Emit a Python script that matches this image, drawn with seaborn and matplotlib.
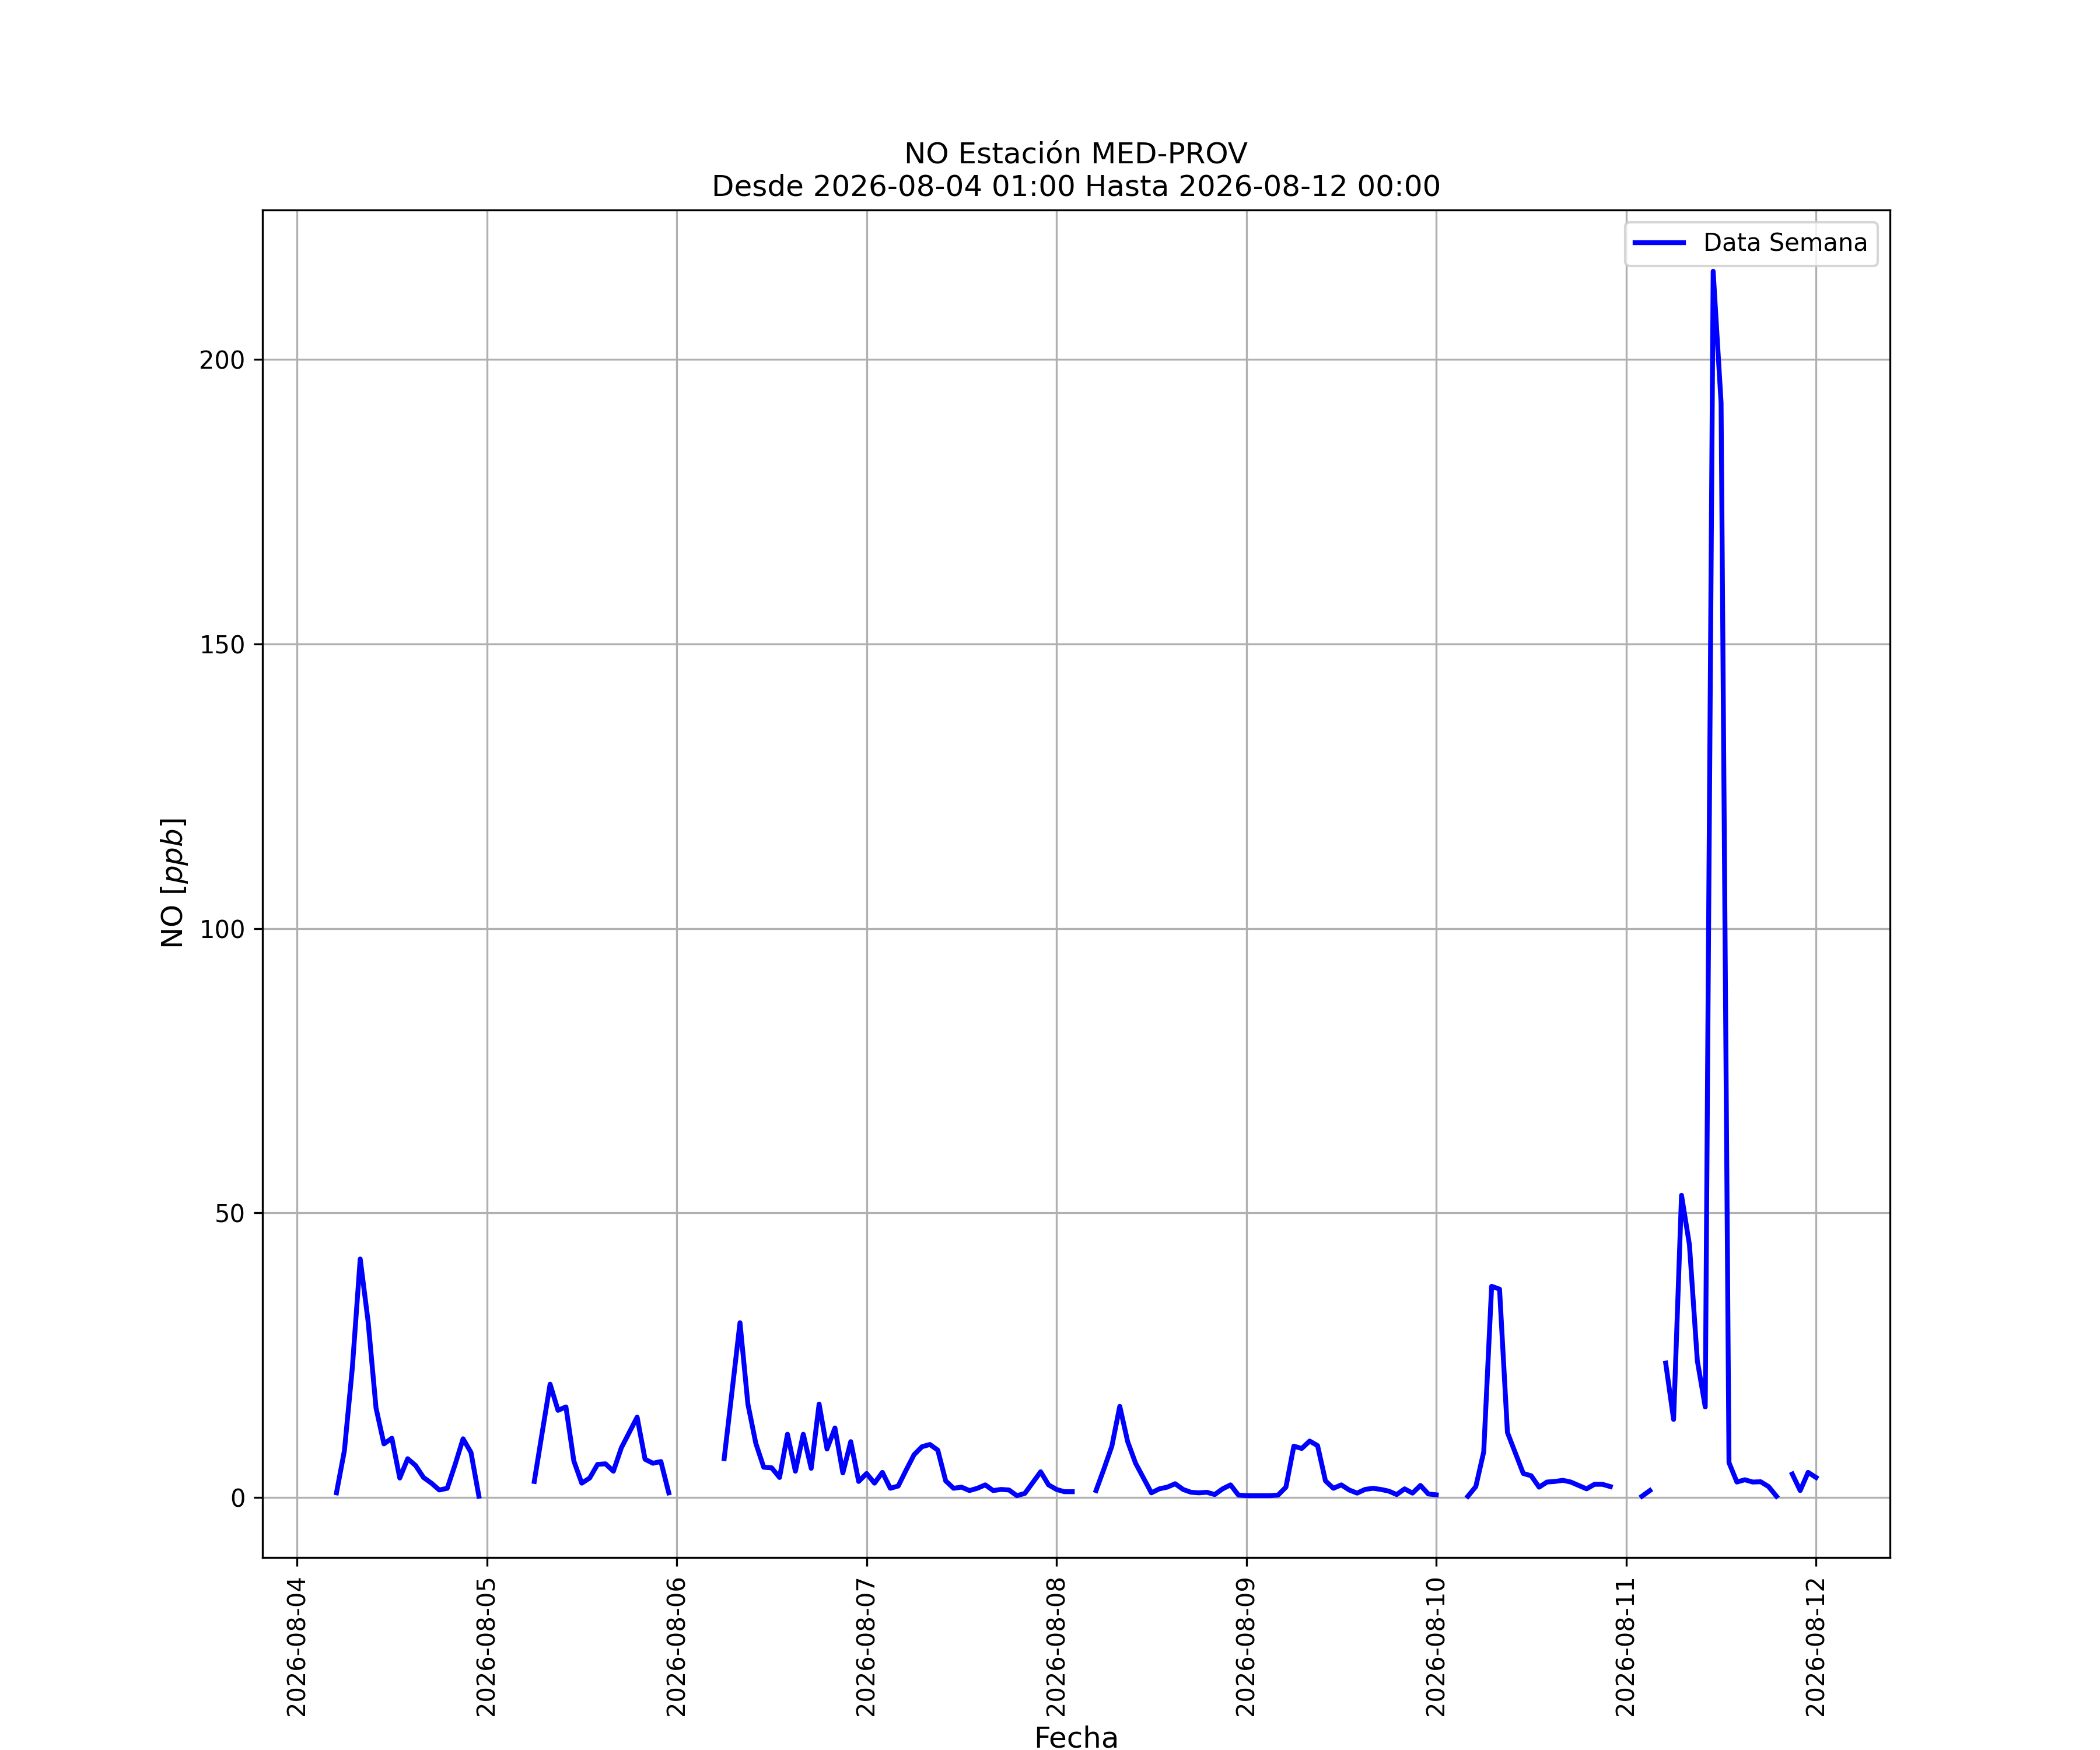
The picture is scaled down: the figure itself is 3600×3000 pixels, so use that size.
import numpy as np
import pandas as pd
import matplotlib
matplotlib.use("Agg")
import matplotlib.pyplot as plt
import matplotlib.dates as mdates
import seaborn as sns

nan = np.nan

# Hourly NO values [ppb], starting 2026-08-04 01:00 (NaN = missing)
start_time = "2026-08-04 01:00"
no_0804 = [nan, nan, nan, nan, 0.8, 8.2, 22.7, 41.9, 30.9, 15.7, 9.4, 10.4,
           3.4, 6.8, 5.6, 3.5, 2.5, 1.3, 1.6, 5.8, 10.3, 7.9, 0.2]          # 01..23
no_0805 = [nan, nan, nan, nan, nan, nan, 2.8, 11.4, 19.9, 15.3, 15.9, 6.4,
           2.5, 3.4, 5.8, 5.9, 4.6, 8.7, 11.4, 14.1, 6.7, 6.0, 6.3, 0.8]
no_0806 = [nan, nan, nan, nan, nan, nan, 6.8, 18.7, 30.7, 16.4, 9.5, 5.3,
           5.2, 3.5, 11.1, 4.6, 11.1, 5.1, 16.4, 8.5, 12.2, 4.3, 9.8, 2.8]
no_0807 = [4.2, 2.5, 4.4, 1.6, 2.0, 4.8, 7.5, 8.9, 9.3, 8.3, 2.9, 1.6,
           1.8, 1.2, 1.6, 2.2, 1.2, 1.4, 1.3, 0.3, 0.7, 2.6, 4.5, 2.2]
no_0808 = [1.4, 1.0, 1.0, nan, nan, 1.2, 5.0, 9.0, 16.0, 9.8, 6.0, 3.4,
           0.8, 1.5, 1.8, 2.4, 1.4, 0.9, 0.8, 0.9, 0.5, 1.5, 2.2, 0.4]
no_0809 = [0.3, 0.3, 0.3, 0.3, 0.4, 1.8, 9.0, 8.6, 9.9, 9.1, 2.9, 1.6,
           2.2, 1.3, 0.75, 1.4, 1.6, 1.4, 1.1, 0.5, 1.5, 0.75, 2.1, 0.6]
no_0810 = [0.45, nan, nan, nan, 0.2, 1.9, 8.0, 37.1, 36.6, 11.4, 7.8, 4.2,
           3.8, 1.8, 2.7, 2.8, 3.0, 2.7, 2.1, 1.5, 2.3, 2.3, 1.9, nan]
no_0811 = [nan, nan, 0.2, 1.2, nan, 23.6, 13.7, 53.1, 44.4, 24.0, 15.9, 215.5,
           192.4, 6.1, 2.7, 3.1, 2.7, 2.75, 1.9, 0.2, nan, 4.1, 1.2, 4.4]
no_0812 = [3.5]

values = no_0804 + no_0805 + no_0806 + no_0807 + no_0808 + no_0809 + no_0810 + no_0811 + no_0812
times = pd.date_range(start_time, periods=len(values), freq="h")

df = pd.DataFrame({"Fecha": times, "NO": values})
df["seg"] = df["NO"].isna().cumsum()
df = df.dropna(subset=["NO"])

fig = plt.figure(figsize=(12, 10), dpi=300)
ax = fig.add_subplot(111)

sns.lineplot(data=df, x="Fecha", y="NO", units="seg", estimator=None,
             color="blue", linewidth=2, label="Data Semana", ax=ax)

ax.xaxis.set_major_locator(mdates.DayLocator())
ax.xaxis.set_major_formatter(mdates.DateFormatter("%Y-%m-%d"))
plt.setp(ax.get_xticklabels(), rotation=90)

ax.grid(True, color="#b0b0b0", linewidth=0.8)
ax.set_xlabel("Fecha", fontsize=12)
ax.set_ylabel("NO [$ppb$]", fontsize=12)
ax.set_title("NO Estación MED-PROV\nDesde 2026-08-04 01:00 Hasta 2026-08-12 00:00", fontsize=12)

handles, labels = ax.get_legend_handles_labels()
ax.legend(handles[:1], labels[:1], loc="upper right", fontsize=10)

fig.savefig("out.png", dpi=300)
